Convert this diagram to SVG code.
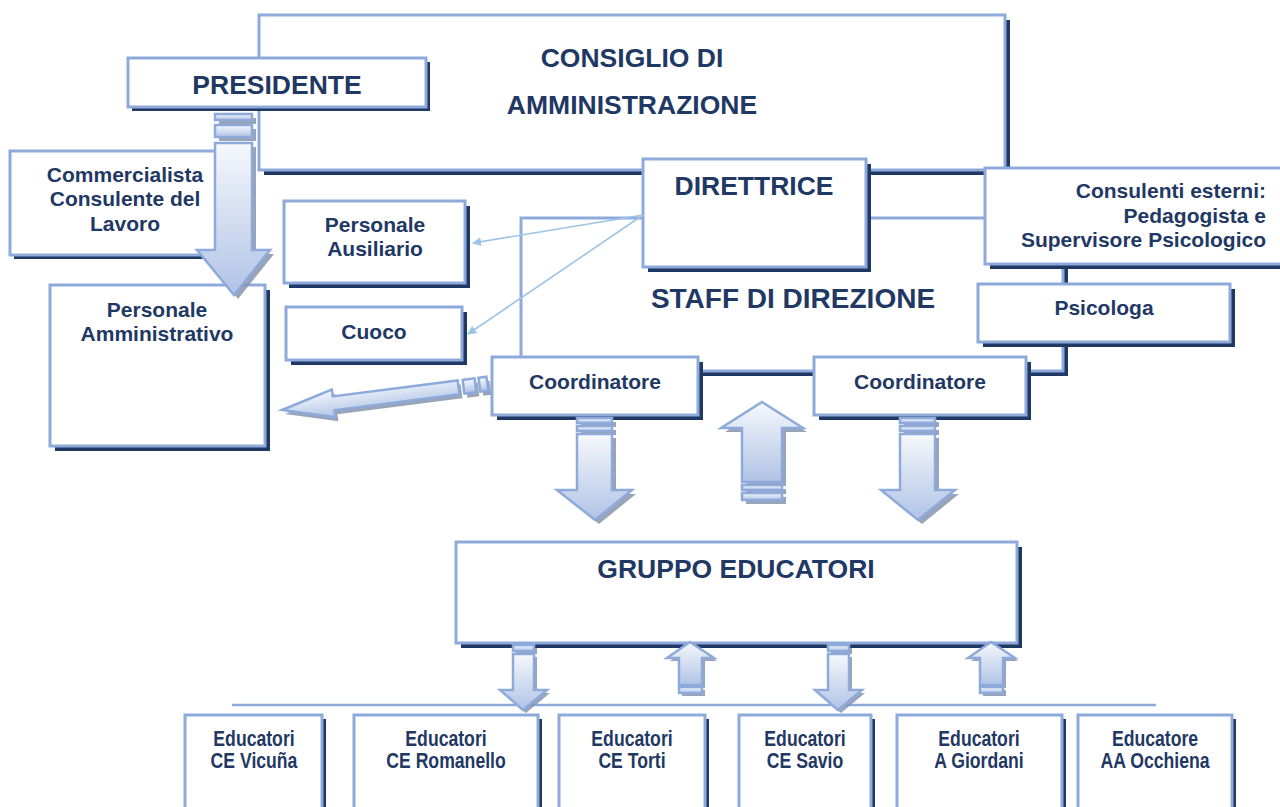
<svg xmlns="http://www.w3.org/2000/svg" width="1280" height="807" viewBox="0 0 1280 807">
<defs>
<linearGradient id="g" x1="0" y1="0" x2="0" y2="1">
<stop offset="0" stop-color="#F6F8FC"/>
<stop offset="1" stop-color="#B0C3E6"/>
</linearGradient>
<marker id="ah" viewBox="0 0 10 10" refX="9" refY="5" markerWidth="9" markerHeight="9" markerUnits="userSpaceOnUse" orient="auto">
<path d="M0,0 L10,5 L0,10 Z" fill="#9DC3E6"/>
</marker>
<style>
.box{fill:#fff;stroke:#8EAADB;stroke-width:3}
.sh{fill:#1F3864}
.t{font-family:"Liberation Sans",Arial,sans-serif;font-weight:bold;fill:#1F3864;text-anchor:middle}
.big{font-size:26.5px}
.med{font-size:21px}
.nar{font-size:21.5px}
.arr{fill:url(#g);stroke:#8EAADB;stroke-width:2.5}
.ash{fill:#8794AC;opacity:0.85}
.ln{stroke:#9DC3E6;stroke-width:1.6;fill:none}
</style>
</defs>
<rect width="1280" height="807" fill="#fff"/>

<g id="cda">
<rect class="sh" x="264" y="20" width="746" height="155"/>
<rect class="box" x="259" y="15" width="746" height="155"/>
<text class="t big" x="632" y="67">CONSIGLIO DI</text>
<text class="t big" x="632" y="114">AMMINISTRAZIONE</text>
</g>

<g id="staff">
<rect class="sh" x="526" y="223" width="542" height="153"/>
<rect class="box" x="521" y="218" width="542" height="153"/>
<text class="t big" x="793" y="308" style="font-size:28px">STAFF DI DIREZIONE</text>
</g>

<g id="presidente">
<rect class="sh" x="132" y="62" width="298" height="49"/>
<rect class="box" x="128" y="58" width="298" height="49"/>
<text class="t big" x="277" y="94">PRESIDENTE</text>
</g>

<g id="commercialista">
<rect class="sh" x="14" y="155" width="226" height="104"/>
<rect class="box" x="10" y="151" width="226" height="104"/>
<text class="t med" x="125" y="182">Commercialista</text>
<text class="t med" x="125" y="206">Consulente del</text>
<text class="t med" x="125" y="231">Lavoro</text>
</g>

<g id="personale-amministrativo">
<rect class="sh" x="55" y="290" width="215" height="161"/>
<rect class="box" x="50" y="285" width="215" height="161"/>
<text class="t med" x="157" y="317">Personale</text>
<text class="t med" x="157" y="341">Amministrativo</text>
</g>

<g id="personale-ausiliario">
<rect class="sh" x="289" y="206" width="181" height="82"/>
<rect class="box" x="284" y="201" width="181" height="82"/>
<text class="t med" x="375" y="232">Personale</text>
<text class="t med" x="375" y="256">Ausiliario</text>
</g>

<g id="cuoco">
<rect class="sh" x="291" y="312" width="176" height="53"/>
<rect class="box" x="286" y="307" width="176" height="53"/>
<text class="t med" x="374" y="339">Cuoco</text>
</g>

<g id="direttrice">
<rect class="sh" x="648" y="164" width="223" height="108"/>
<rect class="box" x="643" y="159" width="223" height="108"/>
<text class="t big" x="754" y="195">DIRETTRICE</text>
</g>

<g id="consulenti">
<rect class="sh" x="990" y="173" width="310" height="96"/>
<rect class="box" x="985" y="168" width="310" height="96"/>
<text class="t med" x="1266" y="198" style="text-anchor:end">Consulenti esterni:</text>
<text class="t med" x="1266" y="223" style="text-anchor:end">Pedagogista e</text>
<text class="t med" x="1266" y="247" style="text-anchor:end">Supervisore Psicologico</text>
</g>

<g id="psicologa">
<rect class="sh" x="983" y="289" width="252" height="58"/>
<rect class="box" x="978" y="284" width="252" height="58"/>
<text class="t med" x="1104" y="315">Psicologa</text>
</g>

<g id="coordinatore-1">
<rect class="sh" x="497" y="362" width="206" height="58"/>
<rect class="box" x="492" y="357" width="206" height="58"/>
<text class="t med" x="595" y="389">Coordinatore</text>
</g>

<g id="coordinatore-2">
<rect class="sh" x="819" y="362" width="212" height="58"/>
<rect class="box" x="814" y="357" width="212" height="58"/>
<text class="t med" x="920" y="389">Coordinatore</text>
</g>

<g id="gruppo-educatori">
<rect class="sh" x="461" y="547" width="561" height="101"/>
<rect class="box" x="456" y="542" width="561" height="101"/>
<text class="t big" x="736" y="578">GRUPPO EDUCATORI</text>
</g>

<g id="edu-vicuna">
<rect class="sh" x="189" y="719" width="137" height="110"/>
<rect class="box" x="185" y="715" width="137" height="110"/>
<text class="t nar" transform="translate(254,746) scale(0.82,1)">Educatori</text>
<text class="t nar" transform="translate(254,768) scale(0.82,1)">CE Vicuña</text>
</g>
<g id="edu-romanello">
<rect class="sh" x="358" y="719" width="184" height="110"/>
<rect class="box" x="354" y="715" width="184" height="110"/>
<text class="t nar" transform="translate(446,746) scale(0.82,1)">Educatori</text>
<text class="t nar" transform="translate(446,768) scale(0.82,1)">CE Romanello</text>
</g>
<g id="edu-torti">
<rect class="sh" x="563" y="719" width="146" height="110"/>
<rect class="box" x="559" y="715" width="146" height="110"/>
<text class="t nar" transform="translate(632,746) scale(0.82,1)">Educatori</text>
<text class="t nar" transform="translate(632,768) scale(0.82,1)">CE Torti</text>
</g>
<g id="edu-savio">
<rect class="sh" x="743" y="719" width="132" height="110"/>
<rect class="box" x="739" y="715" width="132" height="110"/>
<text class="t nar" transform="translate(805,746) scale(0.82,1)">Educatori</text>
<text class="t nar" transform="translate(805,768) scale(0.82,1)">CE Savio</text>
</g>
<g id="edu-giordani">
<rect class="sh" x="901" y="719" width="165" height="110"/>
<rect class="box" x="897" y="715" width="165" height="110"/>
<text class="t nar" transform="translate(979,746) scale(0.82,1)">Educatori</text>
<text class="t nar" transform="translate(979,768) scale(0.82,1)">A Giordani</text>
</g>
<g id="edu-occhiena">
<rect class="sh" x="1082" y="719" width="154" height="110"/>
<rect class="box" x="1078" y="715" width="154" height="110"/>
<text class="t nar" transform="translate(1155,746) scale(0.82,1)">Educatore</text>
<text class="t nar" transform="translate(1155,768) scale(0.82,1)">AA Occhiena</text>
</g>

<g id="connectors">
<line class="ln" x1="643" y1="215" x2="473" y2="243" marker-end="url(#ah)"/>
<line class="ln" x1="643" y1="215" x2="468" y2="334" marker-end="url(#ah)"/>
<line x1="232" y1="705" x2="1156" y2="705" stroke="#8EAADB" stroke-width="2.5"/>

<!-- Presidente down arrow -->
<g transform="translate(4,4)">
<rect class="ash" x="215" y="114" width="37" height="6"/>
<rect class="ash" x="215" y="125" width="37" height="12"/>
<path class="ash" d="M215,143 H252 V250 H270 L234,295 L197,250 H215 Z"/>
</g>
<rect class="arr" x="215" y="114" width="37" height="6"/>
<rect class="arr" x="215" y="125" width="37" height="12"/>
<path class="arr" d="M215,143 H252 V250 H270 L234,295 L197,250 H215 Z"/>

<!-- slanted arrow to Personale Amministrativo -->
<g transform="translate(285,414) rotate(-7.3)">
<path class="ash" d="M0,0 L52,-14 V-7 H178 V7 H52 V14 Z"/>
<rect class="ash" x="183" y="-7" width="12" height="14"/>
<rect class="ash" x="199" y="-7" width="8" height="14"/>
</g>
<g transform="translate(282,410) rotate(-7.3)">
<path class="arr" d="M0,0 L52,-14 V-7 H178 V7 H52 V14 Z"/>
<rect class="arr" x="183" y="-7" width="12" height="14"/>
<rect class="arr" x="199" y="-7" width="8" height="14"/>
</g>

<!-- Coordinatore 1 down arrow -->
<g transform="translate(4,4)">
<rect class="ash" x="577" y="418" width="35" height="5"/>
<rect class="ash" x="577" y="426" width="35" height="5"/>
<path class="ash" d="M577,434 H612 V490 H632 L595,520 L557,490 H577 Z"/>
</g>
<rect class="arr" x="577" y="418" width="35" height="5"/>
<rect class="arr" x="577" y="426" width="35" height="5"/>
<path class="arr" d="M577,434 H612 V490 H632 L595,520 L557,490 H577 Z"/>

<!-- middle up arrow -->
<g transform="translate(4,4)">
<path class="ash" d="M762,402 L803,428 H782 V482 H742 V428 H721 Z"/>
<rect class="ash" x="742" y="485" width="40" height="5"/>
<rect class="ash" x="742" y="493" width="40" height="7"/>
</g>
<path class="arr" d="M762,402 L803,428 H782 V482 H742 V428 H721 Z"/>
<rect class="arr" x="742" y="485" width="40" height="5"/>
<rect class="arr" x="742" y="493" width="40" height="7"/>

<!-- Coordinatore 2 down arrow -->
<g transform="translate(4,4)">
<rect class="ash" x="900" y="418" width="35" height="5"/>
<rect class="ash" x="900" y="426" width="35" height="5"/>
<path class="ash" d="M900,434 H935 V490 H955 L918,520 L881,490 H900 Z"/>
</g>
<rect class="arr" x="900" y="418" width="35" height="5"/>
<rect class="arr" x="900" y="426" width="35" height="5"/>
<path class="arr" d="M900,434 H935 V490 H955 L918,520 L881,490 H900 Z"/>

<!-- small arrows under Gruppo Educatori -->
<g transform="translate(3,3)">
<rect class="ash" x="513" y="645" width="21" height="6"/>
<path class="ash" d="M513,654 H534 V690 H547 L523,710 L500,690 H513 Z"/>
<rect class="ash" x="828" y="645" width="21" height="6"/>
<path class="ash" d="M828,654 H849 V690 H862 L838,710 L815,690 H828 Z"/>
<path class="ash" d="M690,642 L714,658 H702 V685 H679 V658 H667 Z"/>
<rect class="ash" x="679" y="687" width="23" height="6"/>
<path class="ash" d="M991,642 L1015,658 H1003 V685 H980 V658 H968 Z"/>
<rect class="ash" x="980" y="687" width="23" height="6"/>
</g>
<rect class="arr" x="513" y="645" width="21" height="6"/>
<path class="arr" d="M513,654 H534 V690 H547 L523,710 L500,690 H513 Z"/>
<rect class="arr" x="828" y="645" width="21" height="6"/>
<path class="arr" d="M828,654 H849 V690 H862 L838,710 L815,690 H828 Z"/>
<path class="arr" d="M690,642 L714,658 H702 V685 H679 V658 H667 Z"/>
<rect class="arr" x="679" y="687" width="23" height="6"/>
<path class="arr" d="M991,642 L1015,658 H1003 V685 H980 V658 H968 Z"/>
<rect class="arr" x="980" y="687" width="23" height="6"/>
</g>
</svg>
